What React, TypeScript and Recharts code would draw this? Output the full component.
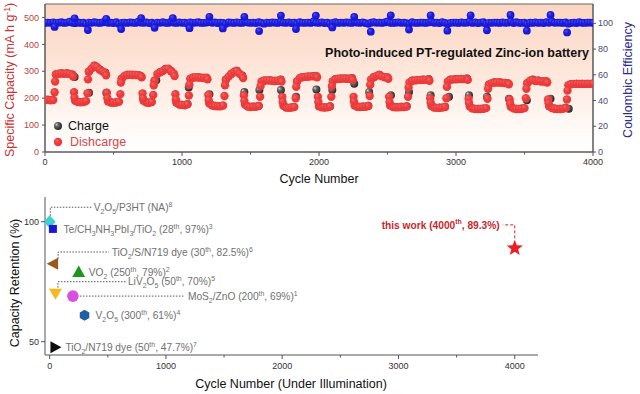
import React from 'react';
import { ComposedChart, ScatterChart, Scatter, XAxis, YAxis, ReferenceArea } from 'recharts';

const FONT = '"Liberation Sans", Arial, Helvetica, sans-serif';

// ---------- Top panel data ----------
const CYCLE_STEP = 20; // discharge / CE sampled every 20 cycles
const dischargeCapacity = [
  193, 194, 192, 193,
  288, 291, 292, 291, 292, 290, 287,
  190, 186, 185, 186, 189,
  298, 310, 320, 316, 306, 299, 294,
  188, 184, 183, 184, 187,
  272, 283, 286, 287, 286, 286, 285, 283,
  190, 184, 183, 186,
  265, 290, 296, 301, 308, 310, 300, 292,
  183, 176, 175, 174, 177,
  272, 276, 278, 277, 276, 275, 276,
  180, 173, 171, 170, 170, 173,
  268, 280, 290, 298, 301, 291, 283,
  176, 169, 167, 168, 168, 171,
  262, 265, 266, 266, 265, 264, 265, 268,
  172, 165, 164, 165, 167,
  262, 275, 278, 279, 280, 281, 281, 283,
  170, 166, 165, 166, 169,
  263, 270, 272, 272, 273, 272, 272, 274,
  173, 168, 167, 168, 168, 171,
  270, 278, 283, 286, 281, 278, 278,
  173, 167, 166, 166, 167, 167, 169,
  258, 265, 266, 267, 268, 268, 268, 270,
  171, 165, 164, 164, 165, 167,
  262, 268, 270, 270, 271, 271, 271, 272,
  169, 162, 160, 160, 160, 161, 163,
  250, 256, 258, 258, 258, 257, 256, 256,
  168, 162, 160, 160, 161, 163,
  255, 265, 268, 264, 265, 262, 262, 263,
  170, 163, 161, 160, 160, 161, 163,
  248, 252, 253, 253, 253, 253, 253, 253, 253, 254,
];
const dischargeTransitions: [number, number][] = [
  [70, 222], [74, 262], [310, 218], [314, 270], [550, 215], [554, 258], [790, 212], [794, 248],
  [1050, 210], [1054, 250], [1310, 208], [1314, 248], [1570, 205], [1574, 245], [1830, 200], [1834, 242],
  [2090, 205], [2094, 245], [2370, 208], [2374, 250], [2650, 205], [2654, 240], [2930, 200], [2934, 242],
  [3230, 198], [3234, 235], [3510, 200], [3514, 235], [3810, 195], [3814, 228],
  [206, 280], [212, 222], [215, 202], [446, 285], [452, 220], [455, 200], [706, 278], [712, 218], [715, 200],
  [946, 282], [952, 215], [955, 195], [1186, 270], [1192, 212], [1195, 192], [1446, 275], [1452, 210], [1455, 190],
  [1726, 262], [1732, 205], [1735, 186], [1986, 278], [1992, 205], [1995, 186], [2246, 268], [2252, 205], [2255, 188],
  [2506, 272], [2512, 205], [2515, 186], [2806, 265], [2812, 200], [2815, 184], [3086, 268], [3092, 198], [3095, 182],
  [3386, 252], [3392, 195], [3395, 180], [3666, 258], [3672, 195], [3675, 182],
];

const CHARGE_STEP = 40;
const chargeCapacity = [
  194, 193, 289, 293, 293, 288, 187, 187, 299, 321, 307, 295, 185, 185, 273, 287, 287, 286, 191, 184,
  266, 297, 309, 301, 184, 176, 178, 277, 278, 276, 181, 172, 171, 269, 291, 302, 284, 170, 169, 172,
  266, 267, 265, 269, 166, 166, 263, 279, 281, 282, 171, 166, 170, 271, 273, 273, 275, 169, 169, 172,
  279, 287, 279, 174, 167, 168, 170, 266, 268, 269, 271, 166, 165, 168, 269, 271, 272, 273, 163, 161,
  162, 251, 259, 259, 257, 169, 161, 162, 256, 269, 266, 263, 171, 162, 161, 164, 253, 254, 254, 254, 255,
];
const chargeTransitions: [number, number][] = [
  [216, 279], [321, 220], [447, 220], [812, 267], [1049, 240], [1200, 215], [1455, 223], [1565, 230],
  [1722, 230], [1832, 205], [1981, 232], [2097, 230], [2257, 254], [2366, 223], [2525, 211], [2657, 223],
  [2815, 211], [2949, 205], [3095, 211], [3226, 205], [3386, 198], [3517, 192], [3690, 198], [3823, 161],
];

const coulombicEfficiency = [
  100.3, 100.6, 100.4, 100.7, 100.2, 100.5, 100.8, 100.3, 100.6, 101.2,
  100.4, 100.1, 100.7, 100.3, 100.5, 99.6, 100.6, 100.4, 100.8, 100.5,
  100.3, 100.7, 101.3, 100.4, 100.5, 100.2, 100.8, 99.5, 100.4, 100.6,
  100.3, 100.7, 100.5, 100.3, 101.2, 100.5, 100.4, 100.7, 100.2, 100.5,
  99.6, 100.6, 100.4, 100.8, 100.4, 100.3, 101.3, 100.5, 100.3, 100.7,
  100.4, 100.5, 99.7, 100.7, 100.4, 100.5, 100.8, 100.3, 100.4, 100.6,
  101.2, 100.4, 100.7, 100.2, 100.5, 100.4, 99.6, 100.7, 100.5, 100.3,
  100.7, 100.4, 100.3, 101.3, 100.6, 100.4, 100.5, 100.2, 100.8, 100.4,
  99.7, 100.6, 100.3, 100.7, 100.5, 100.3, 101.4, 100.5, 100.4, 100.7,
  100.2, 100.5, 99.6, 100.8, 100.4, 100.4, 100.6, 100.3, 101.4, 100.5,
  100.4, 100.7, 100.2, 100.5, 99.7, 100.4, 100.8, 100.3, 100.6, 100.4,
  100.7, 100.5, 100.3, 101.3, 100.5, 100.4, 100.7, 100.2, 99.6, 100.5,
  100.8, 100.4, 100.6, 100.3, 100.7, 101.4, 100.4, 100.3, 100.5, 100.7,
  100.4, 100.5, 100.2, 99.6, 100.8, 100.4, 100.3, 100.6, 100.5, 100.3,
  100.7, 101.4, 100.4, 100.5, 100.2, 100.8, 100.4, 99.7, 100.4, 100.6,
  100.5, 100.3, 100.7, 100.4, 100.5, 101.4, 100.3, 100.7, 100.2, 100.5,
  100.8, 99.6, 100.4, 100.4, 100.6, 100.5, 100.3, 100.7, 100.4, 100.5,
  101.5, 100.2, 100.8, 100.4, 100.3, 100.6, 99.6, 100.5, 100.3, 100.7,
  100.4, 100.5, 100.2, 100.8, 100.4, 101.4, 100.4, 100.6, 100.5, 100.3,
  100.7, 99.7, 100.4, 100.5, 100.2, 100.8, 100.4, 100.3, 100.6, 100.5,
  100.4,
];
const ceSpikes: [number, number][] = [
  [70, 97.2], [313, 94.8], [556, 95.5], [800, 96.5], [1055, 96.2], [1298, 96.0], [1563, 94.0], [1832, 95.5],
  [2097, 96.8], [2378, 93.5], [2657, 95.1], [2937, 94.3], [3226, 94.6], [3517, 94.3], [3811, 92.9],
  [216, 103.9], [447, 103.5], [702, 104.0], [933, 104.0], [1200, 105.0], [1455, 105.0], [1722, 106.0],
  [1977, 106.0], [2257, 105.0], [2524, 106.2], [2815, 106.2], [3107, 106.2], [3398, 106.5], [3690, 106.5],
];

const capacityTicks = [0, 100, 200, 300, 400, 500];
const ceTicks = [0, 20, 40, 60, 80, 100];
const cycleTicks = [0, 500, 1000, 1500, 2000, 2500, 3000, 3500, 4000];

// ---------- Bottom panel data ----------
const studyLabels = [
  'V_{2}O_{5}/P3HT (NA)^{8}',
  'Te/CH_{3}NH_{3}PbI_{3}/TiO_{2} (28^{th}, 97%)^{3}',
  'TiO_{2}/S/N719 dye (30^{th}, 82.5%)^{6}',
  'VO_{2} (250^{th}, 79%)^{2}',
  'LiV_{2}O_{5} (50^{th}, 70%)^{5}',
  'MoS_{2}/ZnO (200^{th}, 69%)^{1}',
  'V_{2}O_{5} (300^{th}, 61%)^{4}',
  'TiO_{2}/N719 dye (50^{th}, 47.7%)^{7}',
  'this work (4000^{th}, 89.3%)',
];
const studyCycles = [0, 28, 30, 250, 50, 200, 300, 50, 4000];
const studyRetention = [100, 97, 82.5, 79, 70, 69, 61, 47.7, 89.3];
const retentionTicks = [50, 100];
const illumTicks = [0, 500, 1000, 1500, 2000, 2500, 3000, 3500, 4000];

// ---------- styles (not data) ----------
type Pt = [number, number];
interface StudyStyle {
  marker: string; color: string; leader?: Pt[]; label: Pt; anchor?: 'start' | 'end'; bold?: boolean; textColor?: string; dash?: string;
}
const studyStyles: StudyStyle[] = [
  { marker: 'diamond', color: '#3fd0cf', leader: [[0.7, -6], [0.7, -14.5], [42, -14.5]], label: [44, -14.5] },
  { marker: 'square', color: '#1717d8', label: [10.5, 0] },
  { marker: 'triLeft', color: '#9a5a1c', leader: [[5, -5], [5, -11.7], [56, -11.7]], label: [58.5, -11.7] },
  { marker: 'triUp', color: '#1c961c', label: [10, 0] },
  { marker: 'triDown', color: '#f7b81e', leader: [[2.5, -6], [2.5, -12], [70, -12]], label: [72.5, -12] },
  { marker: 'circle', color: '#d84fe2', leader: [[7, 0], [112, 0]], label: [115, 0] },
  { marker: 'hexagon', color: '#1e5fa6', label: [11, 0] },
  { marker: 'triRight', color: '#0d0d0d', label: [10, 0] },
  { marker: 'star', color: '#ee1c25', leader: [[0, -9], [0, -22.5], [-12, -22.5]], label: [-15, -22.5], anchor: 'end', bold: true, textColor: '#c8282d', dash: '3 2' },
];

// ---------- build chart data ----------
const dischargeData = [
  ...dischargeCapacity.map((v, i) => ({ x: i * CYCLE_STEP, y: v })),
  ...dischargeTransitions.map(([x, y]) => ({ x, y })),
];
const chargeData = [
  ...chargeCapacity.map((v, i) => ({ x: i * CHARGE_STEP, y: v })),
  ...chargeTransitions.map(([x, y]) => ({ x, y })),
];
const ceData = [
  ...coulombicEfficiency.map((v, i) => ({ x: i * CYCLE_STEP, y: v })),
  ...ceSpikes.map(([x, y]) => ({ x, y })),
];

function RichText(props: { x: number; y: number; text: string; fontSize: number; fill: string; anchor?: string; bold?: boolean }) {
  const { x, y, text, fontSize, fill, anchor = 'start', bold } = props;
  const parts = text.split(/([_^]\{[^}]*\})/).filter(Boolean);
  let shift = 0;
  const spans = parts.map((p, i) => {
    let target = 0;
    let content = p;
    let fs = fontSize;
    if (p.startsWith('_{')) { target = fontSize * 0.3; content = p.slice(2, -1); fs = fontSize * 0.68; }
    else if (p.startsWith('^{')) { target = -fontSize * 0.4; content = p.slice(2, -1); fs = fontSize * 0.68; }
    const dy = target - shift;
    shift = target;
    return <tspan key={i} dy={dy} fontSize={fs}>{content}</tspan>;
  });
  return (
    <text x={x} y={y + fontSize * 0.36} textAnchor={anchor as any} fill={fill} fontSize={fontSize}
      fontFamily={FONT} fontWeight={bold ? 'bold' : 'normal'}>{spans}</text>
  );
}

const ball = (grad: string, r: number) => (props: any) => {
  const { cx, cy } = props;
  if (cx == null || cy == null) return <g />;
  return <circle cx={cx} cy={cy} r={r} fill={`url(#${grad})`} />;
};

function markerShape(kind: string, cx: number, cy: number, color: string) {
  const poly = (pts: number[][]) => <polygon points={pts.map(p => `${cx + p[0]},${cy + p[1]}`).join(' ')} fill={color} />;
  switch (kind) {
    case 'diamond': return poly([[0, -6.5], [6, 0], [0, 6.5], [-6, 0]]);
    case 'square': return <rect x={cx - 4} y={cy - 4} width={8} height={8} fill={color} />;
    case 'triLeft': return poly([[-6.5, 0], [5, -6], [5, 6]]);
    case 'triUp': return poly([[0, -6.5], [6.5, 5], [-6.5, 5]]);
    case 'triDown': return poly([[-6.5, -5], [6.5, -5], [0, 6]]);
    case 'circle': return <circle cx={cx} cy={cy} r={5.8} fill={color} />;
    case 'hexagon': {
      const pts = [0, 1, 2, 3, 4, 5].map(k => { const a = Math.PI / 3 * k - Math.PI / 2; return [5.5 * Math.cos(a), 5.5 * Math.sin(a)]; });
      return poly(pts);
    }
    case 'triRight': return poly([[6, 0], [-5, -6], [-5, 6]]);
    case 'star': {
      const pts: number[][] = [];
      for (let k = 0; k < 10; k++) {
        const r = k % 2 === 0 ? 8.5 : 3.6;
        const a = Math.PI / 5 * k - Math.PI / 2;
        pts.push([r * Math.cos(a), r * Math.sin(a) + 0.8]);
      }
      return poly(pts);
    }
  }
  return null;
}

const studyShape = (idx: number) => (props: any) => {
  const { cx, cy } = props;
  if (cx == null || cy == null) return <g />;
  const st = studyStyles[idx];
  return (
    <g>
      {st.leader && (
        <polyline points={st.leader.map(p => `${cx + p[0]},${cy + p[1]}`).join(' ')} fill="none"
          stroke={st.dash ? '#c8282d' : '#555'} strokeWidth={1} strokeDasharray={st.dash || '1.5 1.5'} />
      )}
      {markerShape(st.marker, cx, cy, st.color)}
      <RichText x={cx + st.label[0]} y={cy + st.label[1]} text={studyLabels[idx]} fontSize={10.2}
        fill={st.textColor || '#707070'} anchor={st.anchor} bold={st.bold} />
    </g>
  );
};

const CycleTick = (props: any) => {
  const { x, y, payload, labelDy } = props;
  const major = payload.value % 1000 === 0;
  return (
    <g>
      <line x1={x} y1={y} x2={x} y2={y + (major ? 4 : 2.5)} stroke="#555" />
      {major && (
        <text x={x} y={y + labelDy} textAnchor="middle" fontSize={9} fill="#333" fontFamily={FONT}>{payload.value}</text>
      )}
    </g>
  );
};

function TopChart() {
  return (
    <ComposedChart width={640} height={200} margin={{ top: 4, right: 0, bottom: 0, left: 0 }}>
      <XAxis type="number" dataKey="x" domain={[0, 4000]} ticks={cycleTicks} interval={0} height={48}
        tickSize={0} tickMargin={0} tickLine={false} axisLine={{ stroke: '#555' }}
        tick={<CycleTick labelDy={12.5} />} allowDataOverflow />
      <YAxis yAxisId="cap" type="number" dataKey="y" domain={[0, 550]} ticks={capacityTicks} interval={0} width={45}
        tickSize={3} tickMargin={3} axisLine={{ stroke: '#555' }} tickLine={{ stroke: '#555' }}
        tick={{ fill: '#b84444', fontSize: 9, fontFamily: FONT }} allowDataOverflow />
      <YAxis yAxisId="ce" orientation="right" type="number" dataKey="y" domain={[0, 115]} ticks={ceTicks} interval={0} width={47}
        tickSize={3} tickMargin={2} axisLine={{ stroke: '#555' }} tickLine={{ stroke: '#555' }}
        tick={{ fill: '#4a4a72', fontSize: 9, fontFamily: FONT }} allowDataOverflow />
      <ReferenceArea yAxisId="cap" x1={0} x2={4000} y1={0} y2={550} fill="url(#bgGrad)" fillOpacity={1} stroke="#666" strokeWidth={1} />
      <Scatter yAxisId="cap" data={chargeData} shape={ball('darkBall', 4)} isAnimationActive={false} />
      <Scatter yAxisId="cap" data={dischargeData} shape={ball('redBall', 4.2)} isAnimationActive={false} />
      <Scatter yAxisId="ce" data={ceData} shape={ball('blueBall', 3.9)} isAnimationActive={false} />
    </ComposedChart>
  );
}

function BottomChart() {
  return (
    <ScatterChart width={640} height={204} margin={{ top: 7, right: 102, bottom: 0, left: 0 }}>
      <XAxis type="number" dataKey="x" domain={[-40, 4200]} ticks={illumTicks} interval={0} height={39}
        tickSize={0} tickMargin={0} tickLine={false} axisLine={{ stroke: '#555' }}
        tick={<CycleTick labelDy={14} />} allowDataOverflow />
      <YAxis type="number" dataKey="y" domain={[44.45, 110.3]} ticks={retentionTicks} interval={0} width={45}
        tickSize={4} tickMargin={2} axisLine={{ stroke: '#555' }} tickLine={{ stroke: '#555' }}
        tick={{ fill: '#333', fontSize: 9, fontFamily: FONT }} allowDataOverflow />
      {studyLabels.map((_, i) => (
        <Scatter key={i} data={[{ x: studyCycles[i], y: studyRetention[i] }]} shape={studyShape(i)} isAnimationActive={false} />
      ))}
    </ScatterChart>
  );
}

export default function App() {
  return (
    <div style={{ position: 'absolute', left: 0, top: 0, width: 640, height: 394, background: '#fff', overflow: 'hidden' }}>
      <svg width={0} height={0} style={{ position: 'absolute' }}>
        <defs>
          <linearGradient id="bgGrad" x1="0" y1="0" x2="0" y2="1">
            <stop offset="0" stopColor="#fbd6c2" />
            <stop offset="0.45" stopColor="#fde6da" />
            <stop offset="0.8" stopColor="#fff8f4" />
            <stop offset="1" stopColor="#ffffff" />
          </linearGradient>
          <radialGradient id="redBall" cx="0.45" cy="0.45" r="0.6" fx="0.35" fy="0.3">
            <stop offset="0" stopColor="#f36464" />
            <stop offset="0.5" stopColor="#ec3c3c" />
            <stop offset="1" stopColor="#e83838" />
          </radialGradient>
          <radialGradient id="blueBall" cx="0.45" cy="0.45" r="0.6" fx="0.35" fy="0.3">
            <stop offset="0" stopColor="#5050f4" />
            <stop offset="0.5" stopColor="#1c1cdc" />
            <stop offset="1" stopColor="#1515d2" />
          </radialGradient>
          <radialGradient id="darkBall" cx="0.4" cy="0.4" r="0.65" fx="0.3" fy="0.3">
            <stop offset="0" stopColor="#d0d0d0" />
            <stop offset="0.35" stopColor="#666" />
            <stop offset="1" stopColor="#222" />
          </radialGradient>
        </defs>
      </svg>
      <div style={{ position: 'absolute', left: 0, top: 0 }}><TopChart /></div>
      <div style={{ position: 'absolute', left: 0, top: 190 }}><BottomChart /></div>
      <svg width={640} height={394} style={{ position: 'absolute', left: 0, top: 0, pointerEvents: 'none' }} fontFamily={FONT}>
        <text transform="translate(14,80) rotate(-90)" textAnchor="middle" fontSize={12.5} fill="#c83434">
          Specific Capacity (mA h g<tspan dy={-4.5} fontSize={8.5}>-1</tspan><tspan dy={4.5}>)</tspan>
        </text>
        <text transform="translate(632,80) rotate(-90)" textAnchor="middle" fontSize={12.5} fill="#2c2c8c">Coulombic Efficiency</text>
        <text x={319} y={182.5} textAnchor="middle" fontSize={12.5} fill="#111">Cycle Number</text>
        <text x={589} y={56.5} textAnchor="end" fontSize={12.5} fontWeight="bold" fill="#111">Photo-induced PT-regulated Zinc-ion battery</text>
        <circle cx={58} cy={126} r={4} fill="url(#darkBall)" />
        <text x={68} y={130.3} fontSize={12.5} fill="#111">Charge</text>
        <circle cx={58} cy={142} r={4.2} fill="url(#redBall)" />
        <text x={70} y={145.8} fontSize={12.5} fill="#d84848">Dishcarge</text>
        <text transform="translate(19,283) rotate(-90)" textAnchor="middle" fontSize={12.5} fill="#111">Capacity Retention (%)</text>
        <text x={291} y={387.5} textAnchor="middle" fontSize={12.5} fill="#111">Cycle Number (Under Illumination)</text>
      </svg>
    </div>
  );
}
